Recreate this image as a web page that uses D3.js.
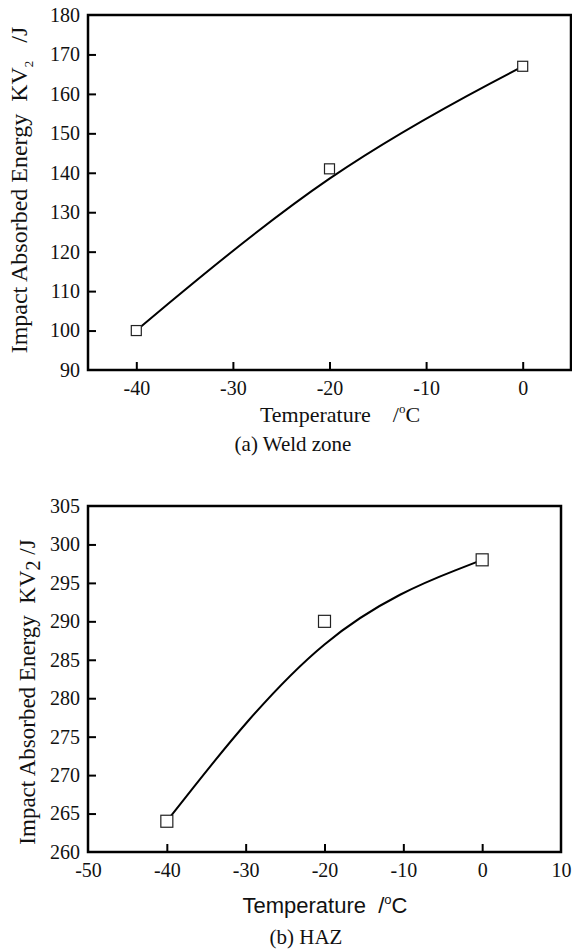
<!DOCTYPE html>
<html>
<head>
<meta charset="utf-8">
<script src="https://cdn.jsdelivr.net/npm/d3@7"></script>
<style>
  html, body { margin: 0; padding: 0; background: #fff; }
  svg { display: block; }
  text { white-space: pre; }
</style>
</head>
<body>
<div id="chart"></div>
<script>
// data
const temps = [-40, -20, 0];
const weldEnergy = [100, 141, 167];
const hazEnergy = [264, 290, 298];

const weldXTicks = [-40, -30, -20, -10, 0];
const weldYTicks = [90, 100, 110, 120, 130, 140, 150, 160, 170, 180];
const hazXTicks = [-50, -40, -30, -20, -10, 0, 10];
const hazYTicks = [260, 265, 270, 275, 280, 285, 290, 295, 300, 305];

const width = 572, height = 951;
const serif = "'Liberation Serif', 'Times New Roman', serif";
const sans = "'Liberation Sans', Arial, sans-serif";

const svg = d3.select("#chart").append("svg")
  .attr("width", width)
  .attr("height", height);

// draws one panel
function panel(opts) {
  const x = d3.scaleLinear().domain(opts.xDomain).range([opts.left, opts.right]);
  const y = d3.scaleLinear().domain(opts.yDomain).range([opts.bottom, opts.top]);
  const g = svg.append("g");

  // ticks pointing inward, plain hyphen for minus
  const xAxis = g.append("g")
    .attr("transform", `translate(0,${opts.bottom})`)
    .call(d3.axisBottom(x).tickValues(opts.xTicks).tickSizeInner(-8).tickSizeOuter(0).tickPadding(11)
      .tickFormat(d => String(d)));
  const yAxis = g.append("g")
    .attr("transform", `translate(${opts.left},0)`)
    .call(d3.axisLeft(y).tickValues(opts.yTicks).tickSizeInner(-8).tickSizeOuter(0).tickPadding(8)
      .tickFormat(d => String(d)));
  [xAxis, yAxis].forEach(a => {
    a.select(".domain").remove();
    a.selectAll(".tick line").attr("stroke", "#000").attr("stroke-width", 2);
    a.selectAll(".tick text")
      .attr("fill", "#111")
      .style("font-family", serif)
      .style("font-size", "20px");
  });
  // hide tick marks sitting on the frame corners
  xAxis.selectAll(".tick line").filter(d => d === opts.xDomain[0] || d === opts.xDomain[1]).remove();
  yAxis.selectAll(".tick line").filter(d => d === opts.yDomain[0] || d === opts.yDomain[1]).remove();

  // frame
  g.append("rect")
    .attr("x", opts.left).attr("y", opts.top)
    .attr("width", opts.right - opts.left).attr("height", opts.bottom - opts.top)
    .attr("fill", "none").attr("stroke", "#000").attr("stroke-width", 2.5);

  const pts = temps.map((t, i) => [t, opts.values[i]]);

  g.append("path")
    .datum(pts)
    .attr("fill", "none")
    .attr("stroke", "#000")
    .attr("stroke-width", 2)
    .attr("d", d3.line().x(d => x(d[0])).y(d => y(d[1])).curve(d3.curveBasis));

  g.append("g").selectAll("rect")
    .data(pts)
    .join("rect")
    .attr("x", d => x(d[0]) - opts.marker / 2)
    .attr("y", d => y(d[1]) - opts.marker / 2)
    .attr("width", opts.marker)
    .attr("height", opts.marker)
    .attr("fill", "#fff")
    .attr("stroke", "#222")
    .attr("stroke-width", 1.2);

  return { x, y, g };
}

function label(g, x, y, font, size) {
  return g.append("text")
    .attr("transform", `translate(${x},${y})`)
    .attr("text-anchor", "middle")
    .style("font-family", font)
    .style("font-size", size + "px")
    .attr("fill", "#111");
}

// (a) weld zone
const a = panel({
  left: 88, right: 571, top: 15, bottom: 370,
  xDomain: [-45, 5], yDomain: [90, 180],
  xTicks: weldXTicks, yTicks: weldYTicks,
  values: weldEnergy, marker: 10
});

const yLabA = label(a.g, 27, 190, serif, 24)
  .attr("transform", "translate(27,190) rotate(-90)");
yLabA.append("tspan").text("Impact Absorbed Energy  KV");
yLabA.append("tspan").style("font-size", "13px").attr("dy", 6).text("2");
yLabA.append("tspan").attr("dy", -6).text("   /J");

const xLabA = label(a.g, 340, 422, serif, 22);
xLabA.append("tspan").text("Temperature    /");
xLabA.append("tspan").style("font-size", "13px").attr("dy", -9).text("o");
xLabA.append("tspan").attr("dy", 9).text("C");

label(a.g, 293, 451, serif, 21).text("(a) Weld zone");

// (b) HAZ
const b = panel({
  left: 88, right: 561, top: 506, bottom: 852,
  xDomain: [-50, 10], yDomain: [260, 305],
  xTicks: hazXTicks, yTicks: hazYTicks,
  values: hazEnergy, marker: 12
});

const yLabB = label(b.g, 35, 692, serif, 23)
  .attr("transform", "translate(35,692) rotate(-90)");
yLabB.append("tspan").text("Impact Absorbed Energy  KV");
yLabB.append("tspan").style("font-size", "20px").attr("dy", 5).text("2");
yLabB.append("tspan").attr("dy", -5).text(" /J");

const xLabB = label(b.g, 325, 913, sans, 22);
xLabB.append("tspan").text("Temperature  /");
xLabB.append("tspan").style("font-size", "13px").attr("dy", -9).text("o");
xLabB.append("tspan").attr("dy", 9).text("C");

label(b.g, 306, 944, serif, 21).text("(b) HAZ");
</script>
</body>
</html>
